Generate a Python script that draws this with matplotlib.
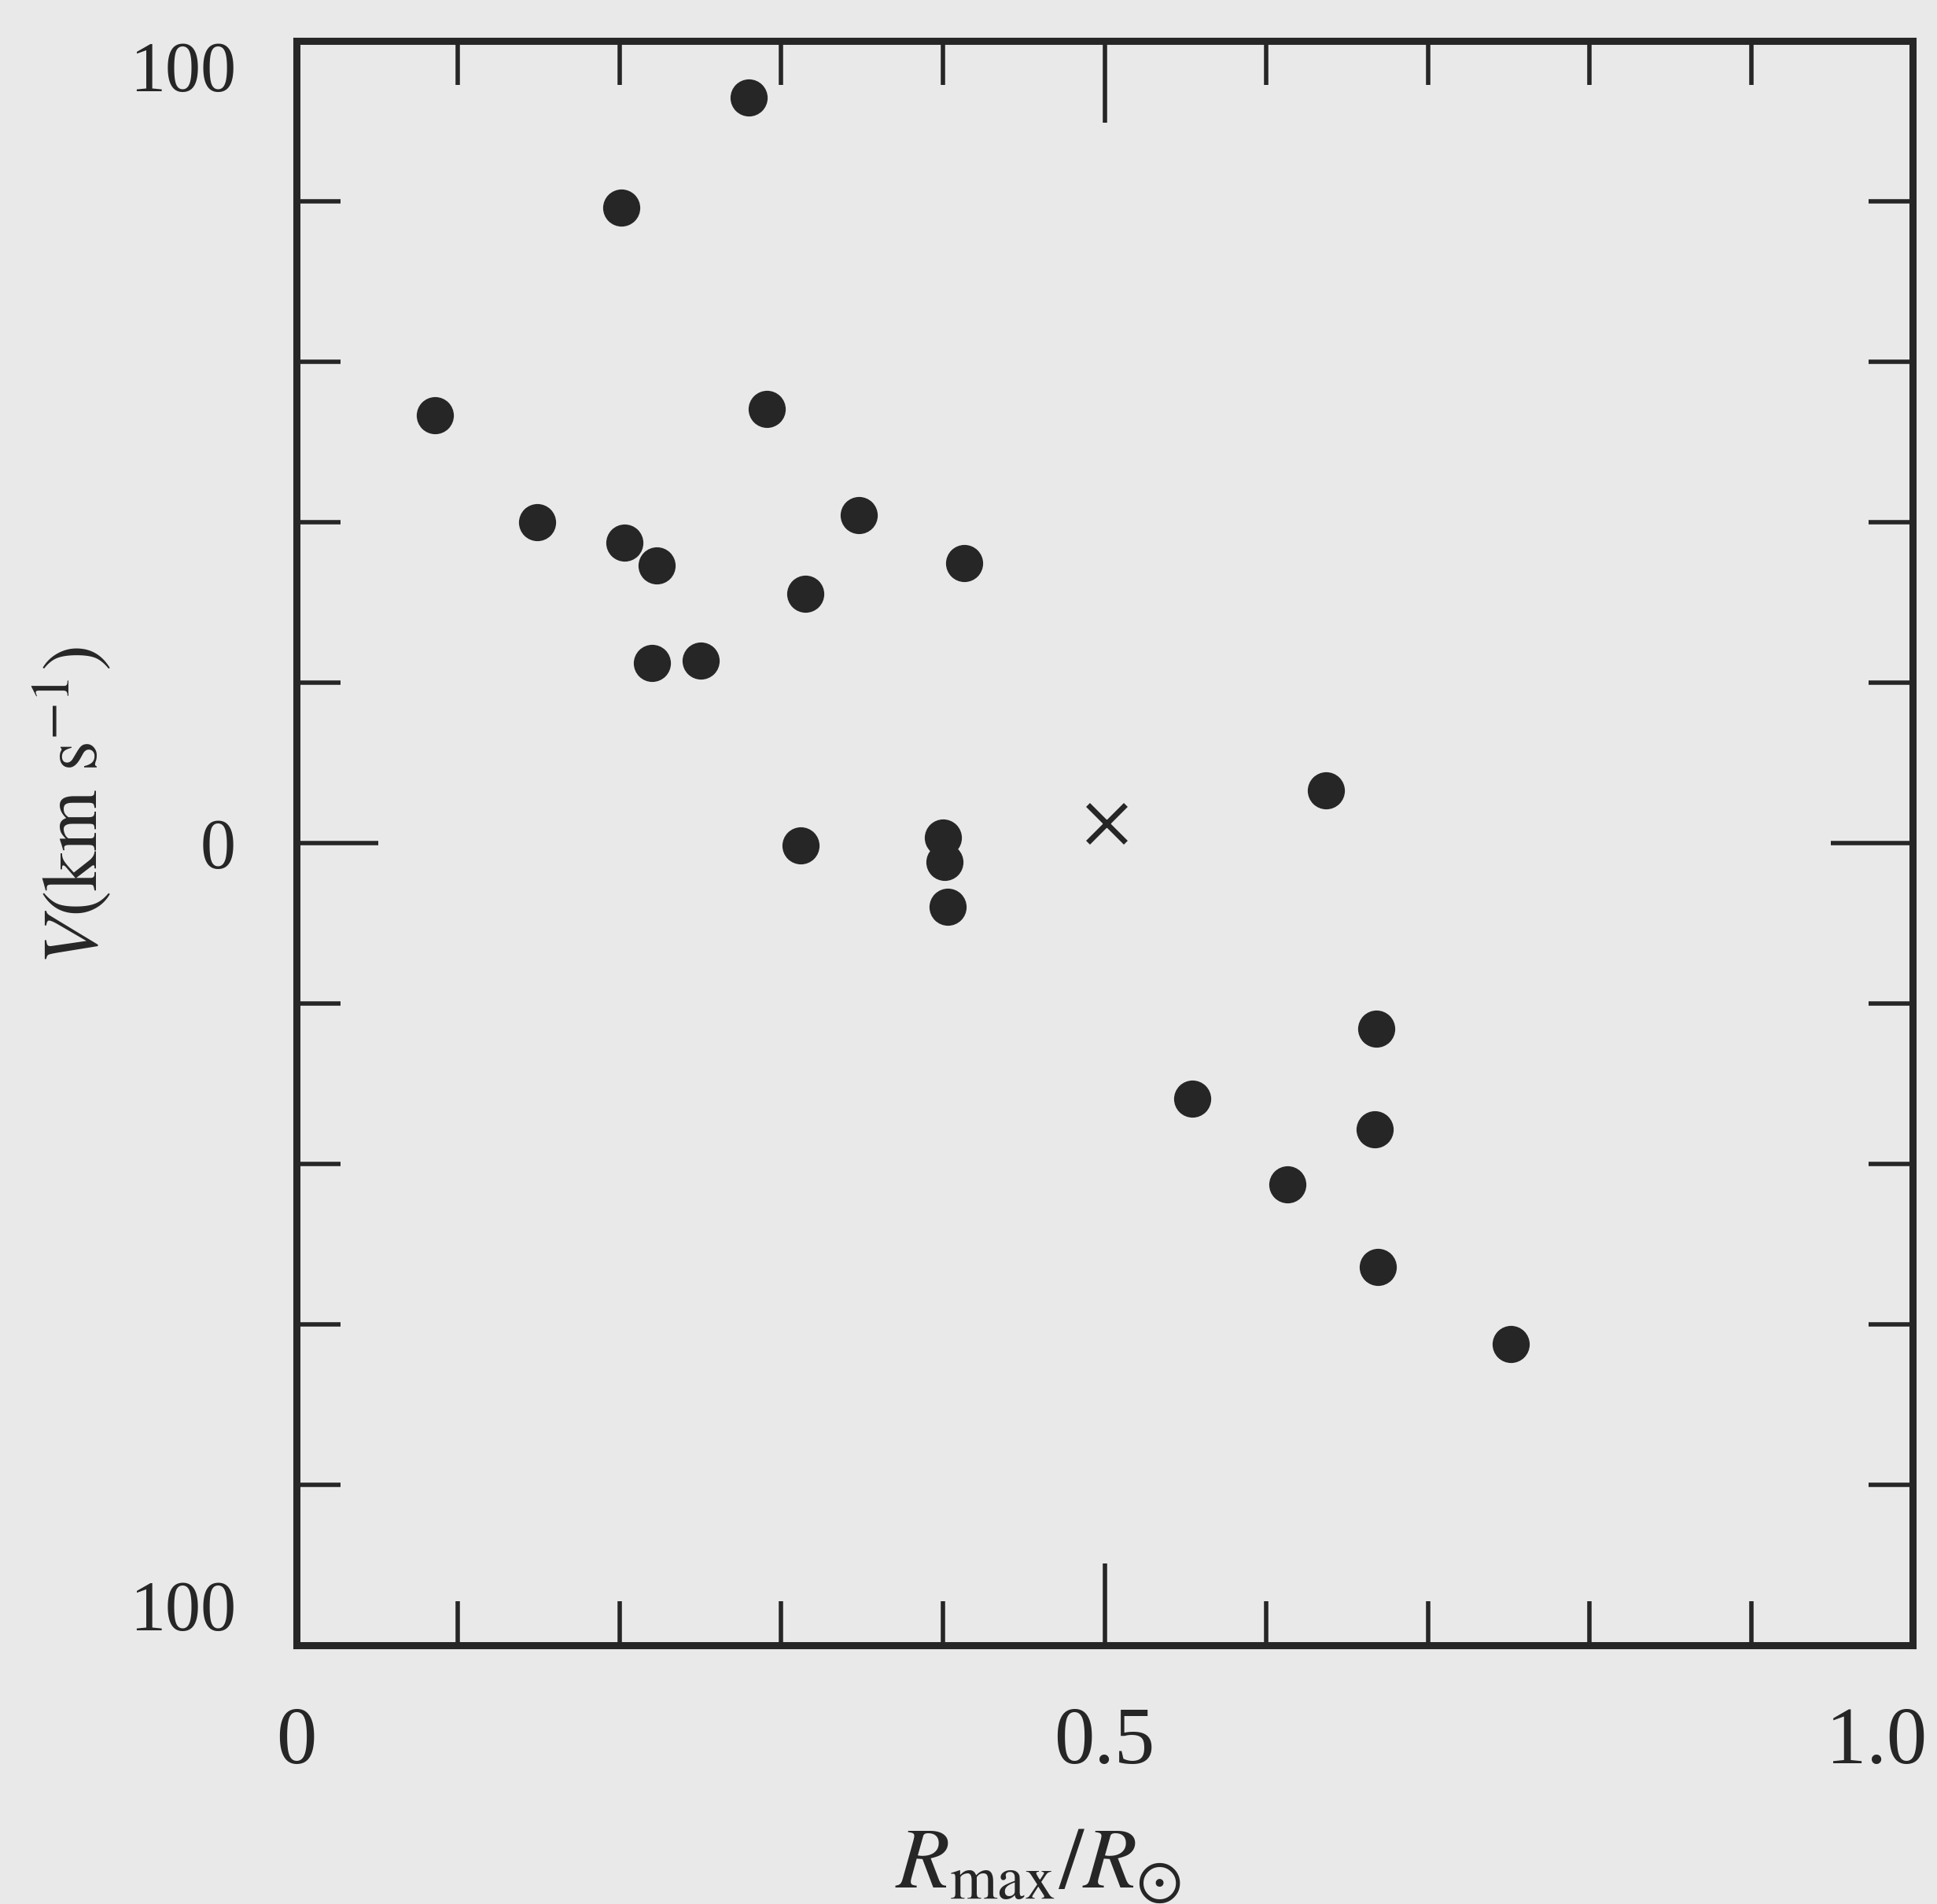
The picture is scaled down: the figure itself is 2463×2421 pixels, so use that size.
import matplotlib
matplotlib.use("Agg")
import matplotlib.pyplot as plt
from matplotlib.transforms import ScaledTranslation

# values
r_ratio = [0.280, 0.201, 0.086, 0.291, 0.149, 0.203, 0.223, 0.348, 0.413,
           0.315, 0.220, 0.250, 0.312, 0.400, 0.401, 0.403, 0.637, 0.668,
           0.554, 0.667, 0.613, 0.669, 0.751]
velocity = [92.9, 79.2, 53.3, 54.1, 40.0, 37.5, 34.6, 40.9, 34.9,
            31.1, 22.5, 22.7, -0.3, 0.7, -2.4, -7.9, 6.6, -23.1,
            -31.9, -35.7, -42.5, -52.8, -62.5]
cross_r = [0.501]
cross_v = [2.5]

x_major = [0.0, 0.5, 1.0]
x_major_labels = ["0", "0.5", "1.0"]
x_minor = [0.1, 0.2, 0.3, 0.4, 0.6, 0.7, 0.8, 0.9]
y_major = [-100, 0, 100]
y_major_labels = ["100", "0", "100"]
y_minor = [-80, -60, -40, -20, 20, 40, 60, 80]

BG = "#e9e9e9"
INK = "#262626"

plt.rcParams["font.family"] = ["Liberation Serif", "DejaVu Serif"]
plt.rcParams["mathtext.fontset"] = "stix"

fig = plt.figure(figsize=(24.63, 24.21), dpi=100, facecolor=BG)
ax = fig.add_axes([0.1529, 0.1359, 0.8347, 0.8426])
ax.set_facecolor(BG)

ax.plot(r_ratio, velocity, "o", color=INK, markersize=34, markeredgewidth=0)
ax.plot(cross_r, cross_v, "x", color=INK, markersize=34, markeredgewidth=5)

ax.set_xlim(0, 1.0)
ax.set_ylim(-100, 100)

ax.set_xticks(x_major)
ax.set_xticklabels(x_major_labels)
ax.set_xticks(x_minor, minor=True)
ax.set_yticks(y_major)
ax.set_yticklabels(y_major_labels)
ax.set_yticks(y_minor, minor=True)

ax.tick_params(which="both", direction="in", top=True, right=True,
               color=INK, width=4)
ax.tick_params(which="major", length=75)
ax.tick_params(which="minor", length=40)
ax.tick_params(axis="x", which="major", labelsize=74, pad=56, labelcolor=INK)
ax.tick_params(axis="y", which="major", labelsize=65, pad=55, labelcolor=INK)

# the "1.0" label sits just inside the right edge in the original
last = ax.xaxis.get_major_ticks()[-1].label1
last.set_horizontalalignment("right")
last.set_transform(last.get_transform()
                   + ScaledTranslation(0.18, 0, fig.dpi_scale_trans))

yl = ax.get_yticklabels()
yl[0].set_verticalalignment("bottom")
yl[-1].set_verticalalignment("top")

for sp in ax.spines.values():
    sp.set_linewidth(6.5)
    sp.set_color(INK)

fig.text(0.038, 0.5766, r"$V(\mathrm{km\ s}^{-1})$", rotation=90,
         ha="center", va="center", fontsize=72, color=INK)
fig.text(0.536, 0.0087, r"$R_{\mathrm{max}}/R_{\odot}$", ha="center",
         va="baseline", fontsize=80, color=INK)

fig.savefig("out.png", dpi=100, facecolor=BG)
